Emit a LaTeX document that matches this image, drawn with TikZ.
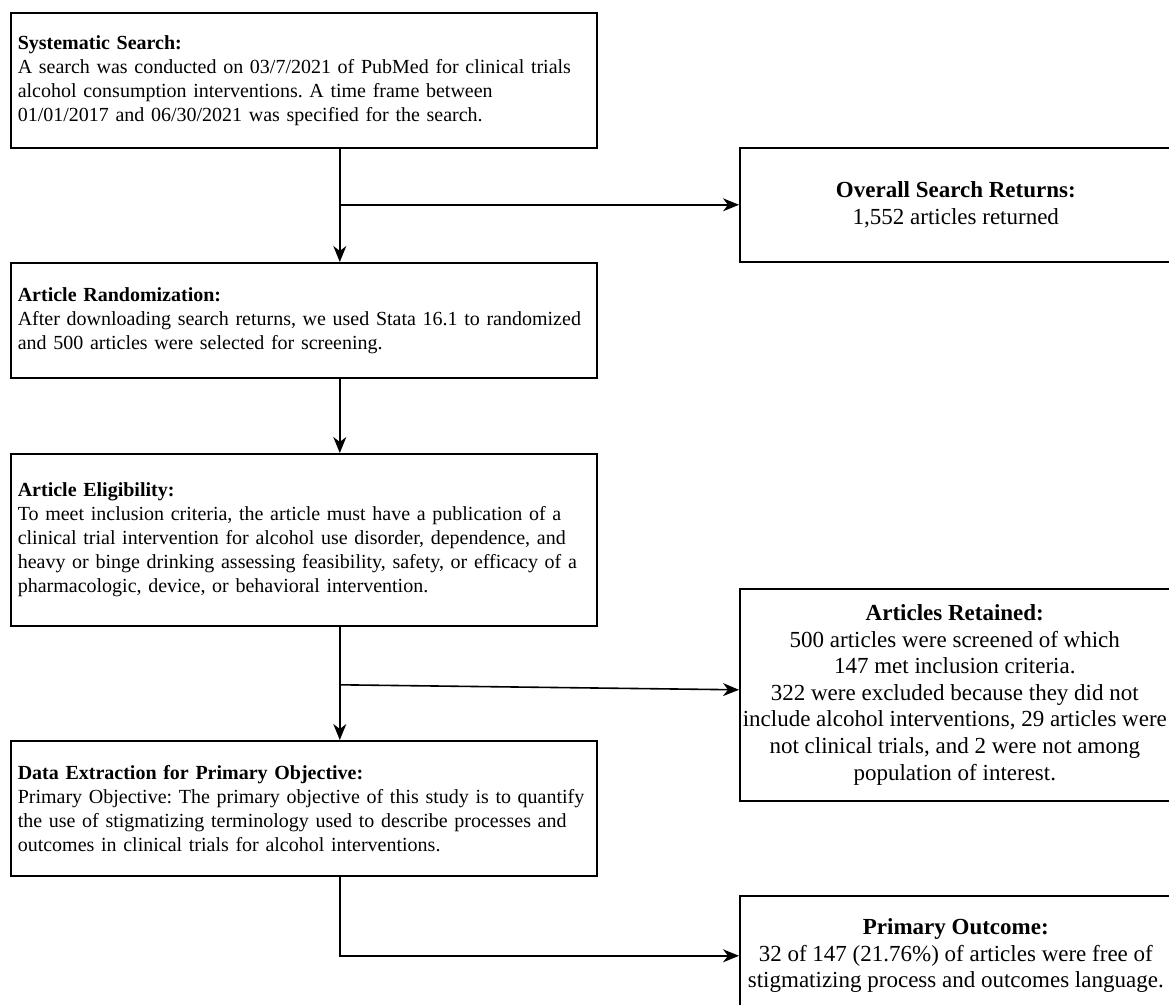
\documentclass[tikz,border=0pt]{standalone}
\usepackage{fontspec}
\setmainfont{Liberation Serif}
\usetikzlibrary{arrows.meta}
\begin{document}
\frenchspacing
\begin{tikzpicture}[x=1pt,y=-1pt,
  box/.style={draw=black,line width=1.6pt,rectangle,inner sep=0pt,anchor=north west},
  lbox/.style={box,text width=572pt,inner xsep=7pt,align=left,font=\fontsize{20}{24}\selectfont},
  rtext/.style={align=center,inner sep=0pt,font=\fontsize{23}{26.6}\selectfont},
  arr/.style={line width=1.6pt,-{Stealth[length=16pt,width=13pt,inset=5pt]}}]
\useasboundingbox (0,0) rectangle (1169,1004);
\fill[white] (0,0) rectangle (1169,1004);
\begin{scope}
\clip (0,0) rectangle (1169,1004);
\node[lbox,minimum height=135pt] (b1) at (10,12)
 {\mbox{\textbf{Systematic Search:}}\\
  \mbox{A search was conducted on 03/7/2021 of PubMed for clinical trials}\\
  \mbox{alcohol consumption interventions. A time frame between}\\
  \mbox{01/01/2017 and 06/30/2021 was specified for the search.}};
\node[lbox,minimum height=115pt] (b2) at (10,262)
 {\mbox{\textbf{Article Randomization:}}\\
  \mbox{After downloading search returns, we used Stata 16.1 to randomized}\\
  \mbox{and 500 articles were selected for screening.}};
\node[lbox,minimum height=172pt] (b3) at (10,453)
 {\mbox{\textbf{Article Eligibility:}}\\
  \mbox{To meet inclusion criteria, the article must have a publication of a}\\
  \mbox{clinical trial intervention for alcohol use disorder, dependence, and}\\
  \mbox{heavy or binge drinking assessing feasibility, safety, or efficacy of a}\\
  \mbox{pharmacologic, device, or behavioral intervention.}};
\node[lbox,minimum height=135pt] (b4) at (10,740)
 {\mbox{\textbf{Data Extraction for Primary Objective:}}\\
  \mbox{Primary Objective: The primary objective of this study is to quantify}\\
  \mbox{the use of stigmatizing terminology used to describe processes and}\\
  \mbox{outcomes in clinical trials for alcohol interventions.}};

\node[box,minimum width=432pt,minimum height=114pt] (ov) at (739,147) {};
\node[rtext] (ovt) at (ov.center) {\textbf{Overall Search Returns:}\\1,552 articles returned};
\node[box,minimum width=432pt,minimum height=212pt] (ret) at (739,588) {};
\node[rtext] (rett) at ([xshift=-1pt]ret.center)
 {\textbf{Articles Retained:}\\500 articles were screened of which\\147 met inclusion criteria.\\322 were excluded because they did not\\include alcohol interventions, 29 articles were\\not clinical trials, and 2 were not among\\population of interest.};
\node[box,minimum width=432pt,minimum height=120pt] (out) at (739,895) {};
\node[rtext] (outt) at (out.center)
 {\textbf{Primary Outcome:}\\32 of 147 (21.76\%) of articles were free of\\stigmatizing process and outcomes language.};

\coordinate (s1) at ([xshift=36pt]b1.south);
\coordinate (s2) at ([xshift=36pt]b2.south);
\coordinate (s3) at ([xshift=36pt]b3.south);
\coordinate (s4) at ([xshift=36pt]b4.south);
\draw[arr] (s1) -- (s1 |- b2.north);
\draw[arr] (s1 |- ov.west) -- (ov.west);
\draw[arr] (s2) -- (s2 |- b3.north);
\draw[arr] (s3) -- (s3 |- b4.north);
\coordinate (j2) at ([yshift=10pt]s3 |- ret.west);
\draw[arr] (j2) -- ([yshift=5pt]ret.west);
\draw[arr] (s4) |- (out.west);
\end{scope}
\end{tikzpicture}
\end{document}
